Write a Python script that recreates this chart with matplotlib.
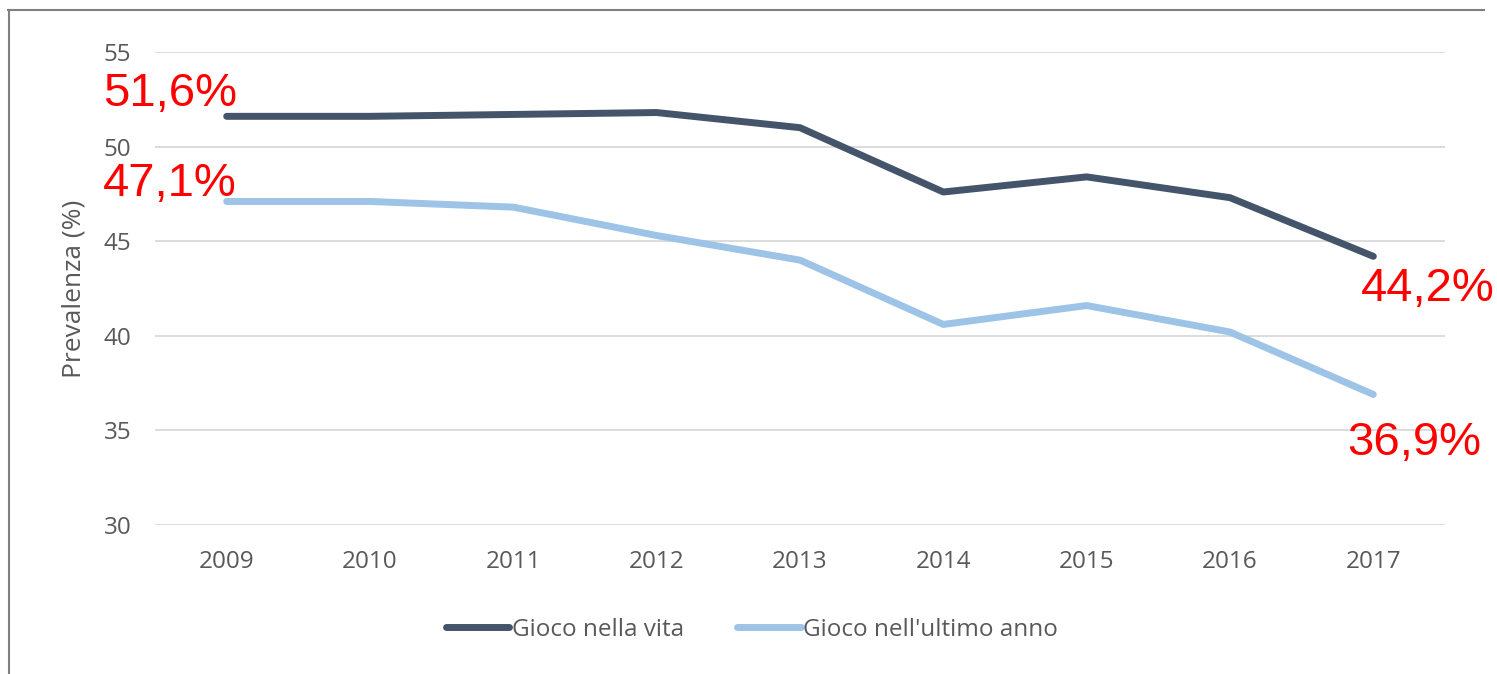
import matplotlib
matplotlib.use("Agg")
import matplotlib.pyplot as plt
from matplotlib.lines import Line2D

years = ["2009", "2010", "2011", "2012", "2013", "2014", "2015", "2016", "2017"]
vita = [51.6, 51.6, 51.7, 51.8, 51.0, 47.6, 48.4, 47.3, 44.2]
ultimo = [47.1, 47.1, 46.8, 45.3, 44.0, 40.6, 41.6, 40.2, 36.9]
series_names = ["Gioco nella vita", "Gioco nell'ultimo anno"]
yticks = [30, 35, 40, 45, 50, 55]
labels_first = ["51,6%", "47,1%"]
labels_last = ["44,2%", "36,9%"]

dark = "#44546a"
light = "#9dc3e6"
gray = "#595959"
red = "#ff0000"

fig = plt.figure(figsize=(14.97, 6.74), dpi=100)
ax = fig.add_axes([155/1497, 1-525/674, (1445-155)/1497, (525-52)/674])

x = list(range(len(years)))
ax.plot(x, vita, color=dark, lw=5, solid_capstyle="round", solid_joinstyle="round", zorder=3)
ax.plot(x, ultimo, color=light, lw=5, solid_capstyle="round", solid_joinstyle="round", zorder=3)

ax.set_xlim(-0.5, len(years) - 0.5)
ax.set_ylim(30, 55)
ax.set_yticks(yticks)
ax.set_yticklabels([str(v) for v in yticks])
ax.set_xticks(x)
ax.set_xticklabels(years)
ax.grid(axis="y", color="#d9d9d9", lw=1.3)
ax.set_axisbelow(True)
for s in ax.spines.values():
    s.set_visible(False)
ax.tick_params(axis="both", length=0, labelsize=17.5, labelcolor=gray)
ax.tick_params(axis="y", pad=17)
ax.tick_params(axis="x", pad=18)
for t in ax.get_xticklabels() + ax.get_yticklabels():
    t.set_fontfamily("Open Sans")
ax.set_ylabel("Prevalenza (%)", fontsize=19, color=gray, family="Open Sans", labelpad=12)

# Red annotations
fs = 34
ax.annotate(labels_first[0], (x[0], vita[0]), xytext=(-89, 0), textcoords="offset points",
            fontsize=fs, color=red, family="Liberation Sans", va="bottom", ha="left")
ax.annotate(labels_first[1], (x[0], ultimo[0]), xytext=(-89, -3), textcoords="offset points",
            fontsize=fs, color=red, family="Liberation Sans", va="bottom", ha="left")
ax.annotate(labels_last[0], (x[-1], vita[-1]), xytext=(-9, -8), textcoords="offset points",
            fontsize=fs, color=red, family="Liberation Sans", va="top", ha="left")
ax.annotate(labels_last[1], (x[-1], ultimo[-1]), xytext=(-19, -19), textcoords="offset points",
            fontsize=fs, color=red, family="Liberation Sans", va="top", ha="left")

handles = [Line2D([0], [0], color=dark, lw=5, solid_capstyle="round"),
           Line2D([0], [0], color=light, lw=5, solid_capstyle="round")]
leg = fig.legend(handles, series_names, loc="center", bbox_to_anchor=(752/1497, 1-630/674),
                 ncol=2, frameon=False, handlelength=2.6, handletextpad=0.1, columnspacing=2.2,
                 prop={"family": "Open Sans", "size": 17.5})
for t in leg.get_texts():
    t.set_color(gray)

# Frame lines (top and left)
fig.add_artist(Line2D([8/1497, 1484/1497], [1-10/674, 1-10/674], color="#7f7f7f", lw=1.5, transform=fig.transFigure))
fig.add_artist(Line2D([9/1497, 9/1497], [1-10/674, 0], color="#7f7f7f", lw=1.5, transform=fig.transFigure))

fig.savefig("out.png", dpi=100)
